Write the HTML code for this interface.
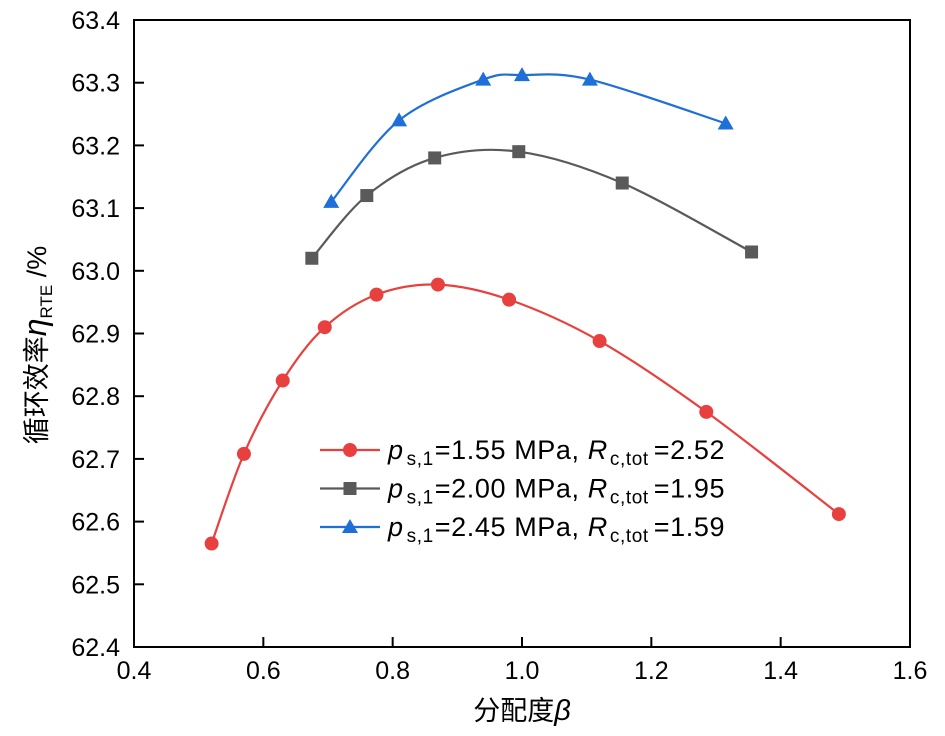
<!DOCTYPE html>
<html><head><meta charset="utf-8"><style>
body{margin:0;background:#fff;}
svg text{font-family:"Liberation Sans","Noto Sans CJK SC",sans-serif;}
</style></head><body>
<svg id="chart" width="945" height="731" xmlns="http://www.w3.org/2000/svg">
<g id="axes"></g>
<g id="series"></g>
<g id="legend"></g>
<text x="522" y="720" font-size="27" text-anchor="middle">分配度<tspan font-style="italic" font-size="29">β</tspan></text>
<text transform="translate(46,345) rotate(-90)" font-size="27" text-anchor="middle">循环效率<tspan font-style="italic" font-size="32">η</tspan><tspan font-size="17" dy="6">RTE</tspan><tspan dy="-6"> /%</tspan></text>
</svg>
<script>
const xTicks=[0.4,0.6,0.8,1.0,1.2,1.4,1.6];
const yTicks=[62.4,62.5,62.6,62.7,62.8,62.9,63.0,63.1,63.2,63.3,63.4];
const redX=[0.52,0.57,0.63,0.695,0.775,0.87,0.98,1.12,1.285,1.49];
const redY=[62.565,62.708,62.825,62.910,62.962,62.978,62.954,62.888,62.775,62.612];
const grayX=[0.675,0.76,0.865,0.995,1.155,1.355];
const grayY=[63.02,63.12,63.18,63.19,63.14,63.03];
const blueX=[0.705,0.81,0.94,1.0,1.105,1.315];
const blueY=[63.11,63.24,63.305,63.312,63.305,63.235];
const labels=["1.55 MPa, ","2.00 MPa, ","2.45 MPa, "];
const rvals=["2.52","1.95","1.59"];
const NS="http://www.w3.org/2000/svg";
const L=134,R=910,T=20,B=647;
const sx=v=>L+(v-0.4)/1.2*(R-L);
const sy=v=>B-(v-62.4)/1.0*(B-T);
function mk(tag,attrs,parent){const e=document.createElementNS(NS,tag);for(const k in attrs)e.setAttribute(k,attrs[k]);parent.appendChild(e);return e;}
const ax=document.getElementById('axes');
const frame=mk('rect',{x:L,y:T,width:R-L,height:B-T,fill:'none',stroke:'#000','stroke-width':2},ax);


xTicks.forEach(v=>{
 const t=mk('line',{x1:sx(v),x2:sx(v),y1:B,y2:B-10,stroke:'#000','stroke-width':2},ax);
 
 
 const l=mk('text',{x:sx(v),y:B+32,'font-size':25,'text-anchor':'middle'},ax);l.textContent=v.toFixed(1);
 
 
});
yTicks.forEach(v=>{
 const t=mk('line',{x1:L,x2:L+10,y1:sy(v),y2:sy(v),stroke:'#000','stroke-width':2},ax);
 
 
 const l=mk('text',{x:L-14,y:sy(v)+9,'font-size':25,'text-anchor':'end'},ax);l.textContent=v.toFixed(1);
 
 
});
function smooth(pts){let d=`M${pts[0][0]},${pts[0][1]}`;for(let i=0;i<pts.length-1;i++){const p0=pts[Math.max(0,i-1)],p1=pts[i],p2=pts[i+1],p3=pts[Math.min(pts.length-1,i+2)];const c1=[p1[0]+(p2[0]-p0[0])/6,p1[1]+(p2[1]-p0[1])/6],c2=[p2[0]-(p3[0]-p1[0])/6,p2[1]-(p3[1]-p1[1])/6];d+=`C${c1[0]},${c1[1]} ${c2[0]},${c2[1]} ${p2[0]},${p2[1]}`;}return d;}
function marker(shape,x,y,color,g){
 if(shape==='c')return mk('circle',{cx:x,cy:y,r:7,fill:color},g);
 if(shape==='s')return mk('rect',{x:x-6.5,y:y-6.5,width:13,height:13,fill:color},g);
 return mk('polygon',{points:`${x},${y-8} ${x-8},${y+6} ${x+8},${y+6}`,fill:color},g);
}
const ser=document.getElementById('series');
const sets=[[redX,redY,'#e8403f','c','red'],[grayX,grayY,'#5a5a5a','s','gray'],[blueX,blueY,'#1f6fd8','t','blue']];
sets.forEach(([xs,ys,c,sh,nm])=>{
 const pts=xs.map((x,i)=>[sx(x),sy(ys[i])]);
 const p=mk('path',{d:smooth(pts),fill:'none',stroke:c,'stroke-width':2.2},ser);
 
 
 pts.forEach(q=>{const m=marker(sh,q[0],q[1],c,ser);
  
  });
});
const lg=document.getElementById('legend');
sets.forEach(([xs,ys,c,sh,nm],i)=>{
 const y=450+i*38.5;
 const ln=mk('line',{x1:320,x2:380,y1:y,y2:y,stroke:c,'stroke-width':2.2},lg);
 
 
 const m=marker(sh,350,y,c,lg);
 
 
 const t=mk('text',{x:388,y:y+9,'font-size':27,'letter-spacing':0.6},lg);
 
 
 t.innerHTML=`<tspan font-style="italic">p</tspan><tspan font-size="19" dx="3" dy="6">s,1</tspan><tspan dx="1" dy="-6">=${labels[i]}</tspan><tspan font-style="italic">R</tspan><tspan font-size="19" dx="2" dy="6">c,tot</tspan><tspan dx="5" dy="-6">=${rvals[i]}</tspan>`;
});
</script>
</body></html>
